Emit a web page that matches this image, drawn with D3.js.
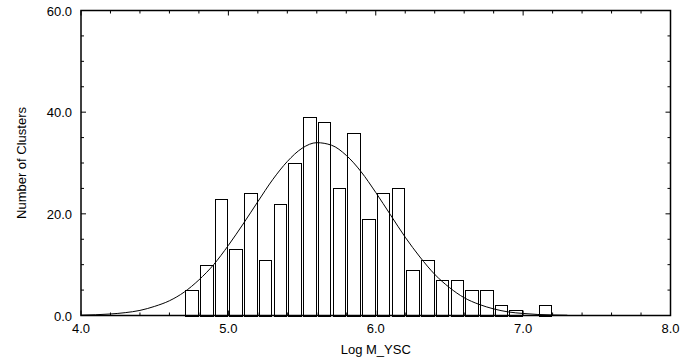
<!DOCTYPE html>
<html lang="en">
<head>
<meta charset="UTF-8" />
<script src="https://d3js.org/d3.v7.min.js"></script>
<title>Log M_YSC histogram</title>
<style>
  body { margin: 0; background: #fff; }
  text { font-family: "Liberation Sans", Arial, sans-serif; font-size: 13px; fill: #000; }
  .axis path, .axis line { stroke: #000; }
</style>
</head>
<body>
<script>
// bin centres (Log M_YSC) and counts
const binCenters = [4.75, 4.85, 4.95, 5.05, 5.15, 5.25, 5.35, 5.45, 5.55, 5.65, 5.75, 5.85, 5.95,
                    6.05, 6.15, 6.25, 6.35, 6.45, 6.55, 6.65, 6.75, 6.85, 6.95, 7.05, 7.15];
const binCounts = [5, 10, 23, 13, 24, 11, 22, 30, 39, 38, 25, 36, 19,
                   24, 25, 9, 11, 7, 7, 5, 5, 2, 1, 0, 2];
// fitted curve
const curveX = [4.0, 4.1, 4.2, 4.3, 4.4, 4.5, 4.6, 4.7, 4.8, 4.9, 5.0, 5.1, 5.2, 5.3, 5.4, 5.5, 5.6,
                5.7, 5.8, 5.9, 6.0, 6.1, 6.2, 6.3, 6.4, 6.5, 6.6, 6.7, 6.8, 6.9, 7.0, 7.1, 7.2, 7.3];
const curveY = [0.07, 0.15, 0.3, 0.56, 1.0, 1.8, 2.9, 4.6, 7.0, 10.0, 13.8, 18.0, 22.4, 26.7, 30.3, 32.9, 34.0,
                33.5, 31.5, 28.3, 24.2, 19.8, 15.4, 11.5, 8.1, 5.5, 3.5, 2.2, 1.3, 0.7, 0.4, 0.2, 0.1, 0.05];
const xTicks = [4.0, 5.0, 6.0, 7.0, 8.0];
const yTicks = [0, 20, 40, 60];

const W = 697, H = 364;
const m = { left: 81, top: 10.5, right: 26.5, bottom: 48.5 };
const iw = W - m.left - m.right, ih = H - m.top - m.bottom;
const binW = 0.085;

const svg = d3.select("body").append("svg").attr("width", W).attr("height", H);
const x = d3.scaleLinear().domain([4, 8]).range([m.left, m.left + iw]);
const y = d3.scaleLinear().domain([0, 60]).range([m.top + ih, m.top]);

// bars
svg.append("g").selectAll("rect")
  .data(binCenters.map((c, i) => ({ c, n: binCounts[i] })).filter(d => d.n > 0))
  .join("rect")
  .attr("x", d => Math.round(x(d.c - binW / 2)) + 0.5)
  .attr("y", d => Math.round(y(d.n)) + 0.5)
  .attr("width", d => Math.round(x(d.c + binW / 2)) - Math.round(x(d.c - binW / 2)))
  .attr("height", d => Math.round(y(0)) - Math.round(y(d.n)))
  .attr("fill", "#fff").attr("stroke", "#000").attr("stroke-width", 1);

// fitted curve
svg.append("path")
  .datum(curveX.map((v, i) => [v, curveY[i]]))
  .attr("fill", "none").attr("stroke", "#000").attr("stroke-width", 1)
  .attr("d", d3.line().x(d => x(d[0])).y(d => y(d[1])).curve(d3.curveMonotoneX));

// minor + major ticks on all four sides
const minorX = d3.range(4, 8.001, 0.2);
const minorY = d3.range(0, 60.001, 5);
const g = svg.append("g").attr("class", "axis");
function tickLen(v, step) { return Math.abs(v / step - Math.round(v / step)) < 1e-6 ? 5 : 3; }
g.selectAll(".tb").data(minorX).join("line")
  .attr("x1", d => x(d)).attr("x2", d => x(d))
  .attr("y1", y(0)).attr("y2", d => y(0) - tickLen(d, 1));
g.selectAll(".tt").data(minorX).join("line")
  .attr("x1", d => x(d)).attr("x2", d => x(d))
  .attr("y1", y(60)).attr("y2", d => y(60) + tickLen(d, 1));
g.selectAll(".tl").data(minorY).join("line")
  .attr("y1", d => y(d)).attr("y2", d => y(d))
  .attr("x1", x(4)).attr("x2", d => x(4) + tickLen(d, 20));
g.selectAll(".tr").data(minorY).join("line")
  .attr("y1", d => y(d)).attr("y2", d => y(d))
  .attr("x1", x(8)).attr("x2", d => x(8) - tickLen(d, 20));
g.selectAll("line").attr("stroke", "#000").attr("stroke-width", 1);

// frame
svg.append("rect")
  .attr("x", x(4)).attr("y", y(60)).attr("width", x(8) - x(4)).attr("height", y(0) - y(60))
  .attr("fill", "none").attr("stroke", "#000").attr("stroke-width", 1.5);

// tick labels
svg.append("g").selectAll("text").data(xTicks).join("text")
  .attr("x", d => x(d)).attr("y", y(0) + 17)
  .attr("text-anchor", "middle")
  .text(d => d.toFixed(1));
svg.append("g").selectAll("text").data(yTicks).join("text")
  .attr("x", x(4) - 9).attr("y", d => y(d) + 5)
  .attr("text-anchor", "end")
  .text(d => d.toFixed(1));

// axis titles
svg.append("text").attr("x", (x(4) + x(8)) / 2).attr("y", 354)
  .attr("text-anchor", "middle").text("Log M_YSC");
svg.append("text")
  .attr("transform", `translate(26,${(y(0) + y(60)) / 2}) rotate(-90)`)
  .attr("text-anchor", "middle").text("Number of Clusters");
</script>
</body>
</html>
